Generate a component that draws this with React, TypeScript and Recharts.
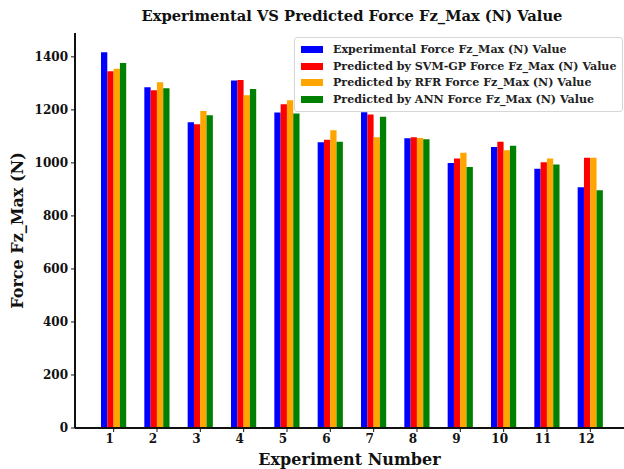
import { BarChart, Bar, XAxis, YAxis } from 'recharts';

const experiments = ['1', '2', '3', '4', '5', '6', '7', '8', '9', '10', '11', '12'];
const experimental = [1417, 1285, 1153, 1311, 1190, 1078, 1191, 1093, 1000, 1060, 978, 908];
const svmGp = [1346, 1274, 1146, 1313, 1221, 1087, 1183, 1097, 1017, 1080, 1002, 1019];
const rfr = [1355, 1304, 1196, 1255, 1236, 1123, 1097, 1094, 1038, 1048, 1017, 1019];
const ann = [1377, 1282, 1180, 1279, 1186, 1080, 1174, 1089, 985, 1065, 994, 897];
const yTicks = [0, 200, 400, 600, 800, 1000, 1200, 1400];

const series = [
  { key: 'experimental', name: 'Experimental Force Fz_Max (N) Value', color: '#0000ff' },
  { key: 'svmGp', name: 'Predicted by SVM-GP Force Fz_Max (N) Value', color: '#ff0000' },
  { key: 'rfr', name: 'Predicted by RFR Force Fz_Max (N) Value', color: '#ffa500' },
  { key: 'ann', name: 'Predicted by ANN Force Fz_Max (N) Value', color: '#008000' },
];

const data = experiments.map((exp, i) => ({
  exp,
  experimental: experimental[i],
  svmGp: svmGp[i],
  rfr: rfr[i],
  ann: ann[i],
}));

const FONT = '"DejaVu Serif", serif';

// matplotlib-style legend box, sits over the plot's upper right
function LegendBox() {
  return (
    <div style={{ position: 'absolute', top: 37, left: 294, border: '1px solid #d6d6d6', borderRadius: 3, background: '#fff', padding: '3px 5px 3px 6px', fontFamily: FONT, fontWeight: 'bold', fontSize: 11.1, color: '#222' }}>
      {series.map(s => (
        <div key={s.key} style={{ display: 'flex', alignItems: 'center', height: 16.8 }}>
          <span style={{ display: 'inline-block', width: 22, height: 7, background: s.color, marginRight: 10 }} />
          <span style={{ whiteSpace: 'nowrap' }}>{s.name}</span>
        </div>
      ))}
    </div>
  );
}

export default function App() {
  const tickStyle = { fontFamily: FONT, fontWeight: 'bold', fontSize: 12, fill: '#111' };
  return (
    <div style={{ position: 'absolute', left: 0, top: 0, width: 624, height: 469, background: '#fff', overflow: 'hidden' }}>
      <div style={{ position: 'absolute', top: 7, left: 0, width: 704, textAlign: 'center', fontFamily: FONT, fontWeight: 'bold', fontSize: 14.7, color: '#111', whiteSpace: 'nowrap' }}>
        Experimental VS Predicted Force Fz_Max (N) Value
      </div>
      <BarChart width={624} height={469} data={data} margin={{ top: 33, right: 0, bottom: 0, left: 0 }} barGap={0}>
        <XAxis
          dataKey="exp"
          height={41}
          padding={{ left: 17, right: 12 }}
          axisLine={{ stroke: '#111', strokeWidth: 2 }}
          tickLine={{ stroke: '#111' }}
          tickSize={4}
          tick={{ ...tickStyle, dx: -4 }}
          label={{ value: 'Experiment Number', position: 'insideBottom', offset: 4, style: { fontFamily: FONT, fontWeight: 'bold', fontSize: 16, fill: '#111' } }}
        />
        <XAxis xAxisId="top" dataKey="exp" orientation="top" height={0} tick={false} tickLine={false} axisLine={{ stroke: '#111', strokeWidth: 2 }} />
        <YAxis
          width={75}
          domain={[0, 1490]}
          ticks={yTicks}
          interval={0}
          axisLine={{ stroke: '#111', strokeWidth: 2 }}
          tickLine={{ stroke: '#111' }}
          tickSize={4}
          tickMargin={3}
          tick={tickStyle}
          label={{ value: 'Force Fz_Max (N)', angle: -90, position: 'insideLeft', offset: 17, style: { fontFamily: FONT, fontWeight: 'bold', fontSize: 16, fill: '#111', textAnchor: 'middle' } }}
        />
        {series.map(s => (
          <Bar key={s.key} dataKey={s.key} name={s.name} fill={s.color} barSize={6.3} isAnimationActive={false} />
        ))}
      </BarChart>
      <LegendBox />
    </div>
  );
}
